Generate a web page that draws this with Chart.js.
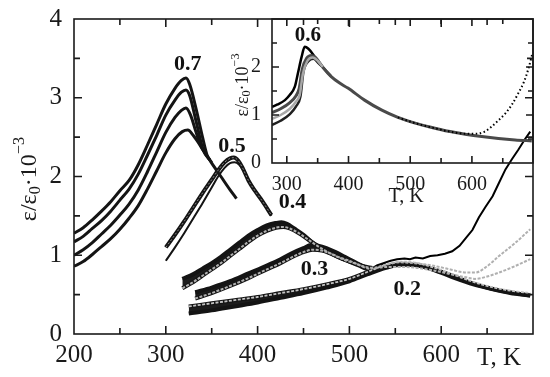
<html>
<head>
<title>Permittivity vs temperature</title>
<script src="https://cdn.jsdelivr.net/npm/chart.js"></script>
<style>
  body { margin: 0; background: #fff; }
  #wrap { position: relative; width: 550px; height: 377px; }
  #mainChart { position: absolute; left: 0; top: 0; }
  #insetChart { position: absolute; left: 200px; top: 0; }
</style>
</head>
<body>
<div id="wrap">
  <canvas id="mainChart" width="550" height="377"></canvas>
  <canvas id="insetChart" width="350" height="215"></canvas>
</div>
<script>
// ---- main panel data: [T (K), eps/eps0 * 1e-3] ----
const c07a = [[200,1.28],[210,1.35],[220,1.45],[230,1.56],[240,1.68],[250,1.82],[260,1.95],[270,2.15],[280,2.40],[290,2.66],[300,2.92],[310,3.12],[317,3.22],[322,3.25],[326,3.17],[333,2.86],[340,2.50],[345,2.27],[350,2.18]];
const c07b = [[200,1.17],[210,1.24],[220,1.34],[230,1.44],[240,1.56],[250,1.70],[260,1.84],[270,2.03],[280,2.27],[290,2.52],[300,2.78],[310,2.97],[317,3.07],[322,3.10],[326,3.03],[333,2.70],[341,2.33],[348,2.21]];
const c07c = [[200,1.00],[210,1.07],[220,1.16],[230,1.27],[240,1.38],[250,1.51],[260,1.65],[270,1.83],[280,2.06],[290,2.31],[300,2.56],[310,2.75],[317,2.84],[322,2.87],[327,2.78],[333,2.56],[338,2.39],[345,2.26]];
const c07d = [[200,0.86],[210,0.92],[220,1.01],[230,1.11],[240,1.21],[250,1.33],[260,1.47],[270,1.63],[280,1.84],[290,2.07],[300,2.30],[310,2.48],[318,2.57],[324,2.59],[330,2.52],[340,2.35],[350,2.17],[360,2.00],[370,1.83],[377,1.72]];

const c05a = [[300,1.10],[310,1.26],[320,1.43],[330,1.61],[340,1.79],[350,1.96],[357,2.08],[364,2.18],[370,2.23],[374,2.24],[379,2.20],[384,2.10],[390,1.95],[397,1.82],[405,1.69],[415,1.51]];
const c05b = [[300,0.93],[310,1.10],[320,1.28],[330,1.47],[340,1.66],[350,1.86],[357,2.00],[364,2.11],[370,2.17],[375,2.18],[380,2.15],[385,2.07],[391,1.94],[398,1.81],[406,1.67],[415,1.50]];

const c04a = [[318,0.70],[330,0.76],[340,0.83],[350,0.90],[360,0.98],[370,1.07],[380,1.16],[390,1.25],[400,1.32],[410,1.38],[420,1.41],[426,1.42],[432,1.40],[440,1.34],[450,1.26],[460,1.16],[470,1.09],[480,1.03],[490,0.97],[500,0.92],[510,0.87],[522,0.82],[540,0.86],[556,0.89],[575,0.87],[595,0.80],[615,0.71],[635,0.63],[655,0.57],[675,0.52],[697,0.49]];
const c04b = [[318,0.58],[330,0.66],[340,0.74],[350,0.82],[360,0.90],[370,0.99],[380,1.08],[390,1.17],[400,1.25],[410,1.31],[420,1.35],[428,1.36],[435,1.34],[445,1.28],[455,1.20],[465,1.12],[475,1.05],[485,0.99],[495,0.94],[505,0.90],[515,0.86],[525,0.84],[540,0.88],[555,0.91],[570,0.90],[590,0.87],[610,0.82],[627,0.78],[637,0.78],[650,0.86],[663,0.99],[680,1.15],[697,1.33]];

const c03a = [[332,0.53],[350,0.59],[370,0.67],[390,0.77],[410,0.87],[425,0.95],[440,1.04],[450,1.09],[458,1.13],[466,1.12],[475,1.09],[485,1.04],[495,0.98],[505,0.92],[515,0.86],[523,0.82]];
const c03rise = [[523,0.82],[530,0.87],[537,0.90],[545,0.93],[552,0.95],[560,0.96],[566,0.95],[572,0.97],[580,0.96],[588,0.99],[596,1.00],[604,1.02],[612,1.05],[620,1.12],[627,1.22],[634,1.32],[641,1.48],[648,1.61],[656,1.75],[663,1.92],[670,2.09],[677,2.22],[684,2.34],[691,2.47],[697,2.57]];
const c03b = [[332,0.45],[350,0.52],[370,0.61],[390,0.71],[410,0.82],[425,0.90],[440,0.99],[450,1.04],[460,1.07],[470,1.06],[480,1.02],[490,0.97],[500,0.93],[510,0.88],[522,0.83],[540,0.85],[560,0.85],[590,0.81],[610,0.76],[627,0.72],[637,0.70],[650,0.73],[663,0.78],[680,0.86],[697,0.95]];

const c02a = [[325,0.35],[350,0.39],[375,0.43],[400,0.47],[425,0.52],[450,0.57],[475,0.63],[500,0.70],[520,0.79],[540,0.88],[556,0.92],[570,0.91],[590,0.85],[610,0.77],[630,0.68],[650,0.61],[670,0.56],[697,0.52]];
const c02b = [[325,0.26],[350,0.30],[375,0.35],[400,0.40],[425,0.46],[450,0.52],[475,0.59],[500,0.67],[520,0.76],[540,0.84],[556,0.88],[572,0.88],[590,0.83],[610,0.75],[630,0.66],[650,0.59],[670,0.54],[697,0.49]];

// ---- inset data (x = 0.6) ----
const i06a = [[276,1.17],[285,1.22],[297,1.31],[305,1.42],[313,1.59],[318,1.87],[324,2.21],[329,2.42],[335,2.38],[345,2.22],[358,2.00],[372,1.80]];
const i06b = [[276,1.05],[290,1.13],[305,1.26],[315,1.40],[320,1.55],[325,1.95],[332,2.18],[340,2.24],[347,2.19],[358,2.00],[372,1.80],[385,1.67],[399,1.56],[426,1.31],[454,1.10],[480,0.95],[508,0.83],[535,0.74],[562,0.66],[589,0.60],[616,0.55],[643,0.51],[670,0.48],[697,0.46]];
const i06c = [[276,0.92],[290,1.00],[305,1.13],[315,1.28],[321,1.42],[326,1.85],[333,2.12],[342,2.20],[350,2.13],[358,2.00]];
const i06d = [[276,0.79],[290,0.88],[305,1.02],[315,1.18],[322,1.38],[327,1.90],[335,2.12],[343,2.17],[352,2.07],[358,2.00]];
const i06rise = [[480,0.95],[508,0.83],[535,0.74],[562,0.66],[589,0.61],[605,0.61],[620,0.65],[632,0.76],[643,0.89],[654,1.03],[665,1.22],[675,1.45],[684,1.68],[691,1.94],[698,2.28]];

// ---- ticks and labels ----
const mainXTicks = [200, 300, 400, 500, 600, 700];
const mainYTicks = [0, 1, 2, 3, 4];
const insetXTicks = [300, 400, 500, 600];
const insetYTicks = [0, 1, 2];
const mainNotes = [['0.7', 324, 3.42], ['0.5', 372, 2.38], ['0.4', 438, 1.67], ['0.3', 462, 0.82], ['0.2', 563, 0.57]];
const insetNotes = [['0.6', 334, 2.65]];

const serif = '"Liberation Serif", "DejaVu Serif", serif';

// order: bigger number = drawn further underneath
function line(pts, color, width, order, extra) {
  return Object.assign({
    data: pts.map(p => ({ x: p[0], y: p[1] })),
    borderColor: color,
    borderWidth: width,
    pointRadius: 0,
    fill: false,
    order: order,
    cubicInterpolationMode: 'monotone'
  }, extra || {});
}

// dark band between two curves of one composition (low-T part only)
function band(pts, n, target) {
  return line(pts.slice(0, n), '#141414', 4, 3, { fill: { target: target }, backgroundColor: '#1c1c1c' });
}

function epsLabel(ctx, cx, cy, size) {
  // eps/eps0 . 10^-3, read bottom to top
  const parts = [
    ['\u03B5/\u03B5', 1, 0],
    ['0', 0.68, 0.22],
    ['\u00B710', 1, 0],
    ['\u22123', 0.68, -0.42]
  ];
  ctx.save();
  ctx.translate(cx, cy);
  ctx.rotate(-Math.PI / 2);
  ctx.fillStyle = '#1a1a1a';
  ctx.textBaseline = 'middle';
  ctx.textAlign = 'left';
  let total = 0;
  parts.forEach(p => { ctx.font = (size * p[1]) + 'px ' + serif; total += ctx.measureText(p[0]).width; });
  let x = -total / 2;
  parts.forEach(p => {
    ctx.font = (size * p[1]) + 'px ' + serif;
    ctx.fillText(p[0], x, p[2] * size);
    x += ctx.measureText(p[0]).width;
  });
  ctx.restore();
}

const frameTicks = {
  id: 'frameTicks',
  afterDraw(chart, args, o) {
    const { ctx, chartArea: a } = chart;
    const sx = chart.scales.x, sy = chart.scales.y;
    ctx.save();
    ctx.strokeStyle = '#1a1a1a';
    ctx.lineWidth = 1.6;
    ctx.strokeRect(a.left, a.top, a.right - a.left, a.bottom - a.top);
    ctx.beginPath();
    o.xTicks.forEach(v => {
      const px = sx.getPixelForValue(v);
      if (px < a.left + 1 || px > a.right - 1) return;
      const len = Number.isInteger(v / o.xMajor) ? o.major : o.minor;
      ctx.moveTo(px, a.bottom); ctx.lineTo(px, a.bottom - len);
      ctx.moveTo(px, a.top); ctx.lineTo(px, a.top + len);
    });
    o.yTicks.forEach(v => {
      const py = sy.getPixelForValue(v);
      if (py < a.top + 1 || py > a.bottom - 1) return;
      const len = Number.isInteger(v / o.yMajor) ? o.major : o.minor;
      ctx.moveTo(a.left, py); ctx.lineTo(a.left + len, py);
      ctx.moveTo(a.right, py); ctx.lineTo(a.right - len, py);
    });
    ctx.stroke();

    ctx.fillStyle = '#111';
    ctx.font = 'bold ' + o.noteSize + 'px ' + serif;
    ctx.textAlign = 'center';
    ctx.textBaseline = 'middle';
    o.notes.forEach(n => ctx.fillText(n[0], sx.getPixelForValue(n[1]), sy.getPixelForValue(n[2])));

    ctx.fillStyle = '#1a1a1a';
    ctx.font = o.xTitleSize + 'px ' + serif;
    ctx.fillText('T, K', o.xTitle[0], o.xTitle[1]);
    ctx.restore();
    epsLabel(ctx, o.yTitle[0], o.yTitle[1], o.yTitleSize);
  }
};

function steps(from, to, step) {
  const out = [];
  for (let v = from; v <= to + 1e-9; v += step) out.push(Math.round(v * 100) / 100);
  return out;
}

function axes(xmin, xmax, ymin, ymax, xt, yt, yWidth, xHeight, size, xPad, yPad) {
  return {
    x: {
      type: 'linear', min: xmin, max: xmax,
      grid: { display: false }, border: { display: false },
      afterBuildTicks: s => { s.ticks = xt.map(v => ({ value: v })); },
      afterFit: s => { s.height = xHeight; s.paddingLeft = 0; s.paddingRight = 0; },
      ticks: {
        color: '#1a1a1a', padding: xPad, maxRotation: 0, autoSkip: false,
        font: { family: serif, size: size },
        callback: v => (v === 700 ? '' : String(v))
      }
    },
    y: {
      type: 'linear', min: ymin, max: ymax,
      grid: { display: false }, border: { display: false },
      afterBuildTicks: s => { s.ticks = yt.map(v => ({ value: v })); },
      afterFit: s => { s.width = yWidth; s.paddingTop = 0; s.paddingBottom = 0; },
      ticks: {
        color: '#1a1a1a', padding: yPad, autoSkip: false,
        font: { family: serif, size: size },
        callback: v => String(v)
      }
    }
  };
}

const black = '#141414';

new Chart(document.getElementById('mainChart'), {
  type: 'line',
  data: {
    datasets: [
      line(c07a, black, 3, 2), line(c07b, black, 3, 2), line(c07c, black, 3, 2), line(c07d, black, 3, 2), // 0-3
      line(c05a, black, 4, 2), line(c05b, black, 2, 2),                                                // 4-5
      line(c02b, black, 4, 2), line(c03a, black, 4, 2), line(c04a, black, 4, 2),                       // 6-8
      band(c04b, 22, 8), band(c03b, 15, 7), band(c02a, 10, 6),                                         // 9-11
      line(c03rise, '#000', 2, 1, { cubicInterpolationMode: 'default', tension: 0 }),
      line(c05a, '#8a8a8a', 1, 0, { borderDash: [2, 2] }),
      line(c04b, '#b0b0b0', 2, 0, { borderDash: [3, 1.5] }),
      line(c03b, '#b0b0b0', 2, 0, { borderDash: [3, 1.5] }),
      line(c02a, '#c4c4c4', 1.8, 0, { borderDash: [3, 1.5] })
    ]
  },
  options: {
    responsive: false, animation: false, devicePixelRatio: 1,
    layout: { padding: { left: 0, top: 19, right: 17, bottom: 0 } },
    plugins: {
      legend: { display: false }, tooltip: { enabled: false },
      filler: { propagate: false },
      frameTicks: {
        xTicks: steps(200, 700, 50), yTicks: steps(0, 4, 0.5), xMajor: 100, yMajor: 1,
        major: 8, minor: 6, notes: mainNotes, noteSize: 22,
        xTitle: [499, 358], xTitleSize: 25, yTitle: [30, 179], yTitleSize: 24
      }
    },
    scales: axes(200, 700, 0, 4, mainXTicks, mainYTicks, 74, 43, 25, -1.5, 4)
  },
  plugins: [frameTicks]
});

new Chart(document.getElementById('insetChart'), {
  type: 'line',
  data: {
    datasets: [
      line(i06rise, '#000', 2, 0, { borderDash: [1.5, 2.5] }),
      line(i06c, '#a8a8a8', 2.5, 1),
      line(i06b, '#4a4a4a', 3, 2),
      line(i06a, '#000', 2.5, 3),
      line(i06d, '#202020', 2.5, 3)
    ]
  },
  options: {
    responsive: false, animation: false, devicePixelRatio: 1,
    layout: { padding: { left: 0, top: 19, right: 17, bottom: 0 } },
    plugins: {
      legend: { display: false }, tooltip: { enabled: false },
      frameTicks: {
        xTicks: steps(300, 650, 50), yTicks: steps(0, 3, 0.5), xMajor: 100, yMajor: 1,
        major: 7, minor: 5, notes: insetNotes, noteSize: 21,
        xTitle: [206, 197], xTitleSize: 20, yTitle: [43, 85], yTitleSize: 18
      }
    },
    scales: axes(276, 699, 0, 3, insetXTicks, insetYTicks, 72, 52, 20, 2, 3)
  },
  plugins: [frameTicks]
});
</script>
</body>
</html>
